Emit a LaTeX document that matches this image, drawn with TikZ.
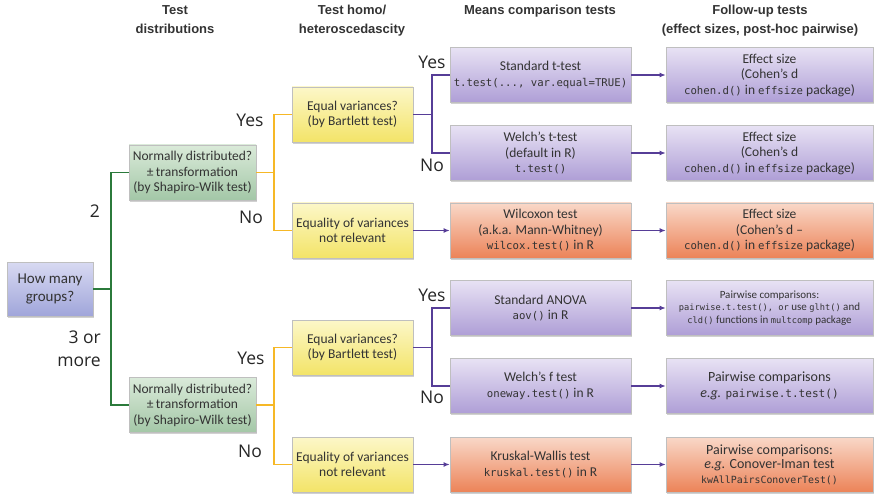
\documentclass[tikz,border=0pt]{standalone}
\usepackage{fontspec}
\setmainfont{Carlito}
\setmonofont{DejaVu Sans Mono}[Scale=0.79]
\newfontfamily\headfont{Liberation Sans}
\newfontfamily\ynfont{Open Sans}
\usetikzlibrary{arrows.meta,shadows}

\definecolor{txtgray}{HTML}{333333}
\definecolor{lngreen}{HTML}{2B7A3B}
\definecolor{lnorange}{HTML}{F6B826}
\definecolor{lnpurple}{HTML}{563D97}
\definecolor{bluetop}{HTML}{D8DAF2}
\definecolor{bluebot}{HTML}{A0A5DA}
\definecolor{greentop}{HTML}{DAEAD9}
\definecolor{greenbot}{HTML}{A3C7A7}
\definecolor{yeltop}{HTML}{FCF7C8}
\definecolor{yelbot}{HTML}{F3E468}
\definecolor{purtop}{HTML}{E8E2F4}
\definecolor{purbot}{HTML}{AE9ED6}
\definecolor{oratop}{HTML}{F9D8C8}
\definecolor{orabot}{HTML}{EC8358}

\tikzset{
	box/.style = {align=center, inner sep=0pt, text centered, draw=black!25, line width=0.6pt,
		font=\fontsize{13.5}{15.5}\selectfont, text=txtgray,
		drop shadow={shadow xshift=1pt, shadow yshift=-1.6pt, opacity=0.3, fill=black!60}},
	groupbox/.style = {box, top color=bluetop, bottom color=bluebot, minimum width=86pt, minimum height=54pt, font=\fontsize{15}{18}\selectfont},
	normbox/.style = {box, top color=greentop, bottom color=greenbot, minimum width=127pt, minimum height=55pt},
	varbox/.style = {box, top color=yeltop, bottom color=yelbot, minimum width=121pt, minimum height=55pt},
	parbox/.style = {box, top color=purtop, bottom color=purbot, minimum width=181pt, minimum height=55pt},
	npbox/.style = {box, top color=oratop, bottom color=orabot, minimum width=181pt, minimum height=55pt},
	fparbox/.style = {parbox, minimum width=207pt},
	fnpbox/.style = {npbox, minimum width=207pt},
	header/.style = {font=\headfont\bfseries\fontsize{13}{19}\selectfont, text=txtgray, align=center, anchor=north, inner sep=0pt},
	yn/.style = {font=\ynfont\fontsize{17.5}{23}\selectfont, text=black!85, inner sep=0pt},
	grline/.style = {lngreen, line width=1.8pt},
	orline/.style = {lnorange, line width=1.8pt},
	puline/.style = {lnpurple, line width=1.8pt},
	puarrow/.style = {puline, -{Latex[length=6pt,width=5pt]}}
}

\begin{document}
\begin{tikzpicture}[x=1pt, y=-1pt]
	\useasboundingbox (0,0) rectangle (874,494);

	% column headers
	\node [header] (h1) at (175,5) {Test\\distributions};
	\node [header] (h2) at (352,5) {Test homo/\\heteroscedascity};
	\node [header] (h3) at (540,5) {Means comparison tests};
	\node [header] (h4) at (760,5) {Follow-up tests\\(effect sizes, post-hoc pairwise)};

	% boxes
	\node [groupbox] (groups) at (50,289) {How many\\groups?};
	\node [normbox] (norm1) at (192.5,172.5) {Normally distributed?\\±\,transformation\\(by Shapiro-Wilk test)};
	\node [normbox] (norm2) at (192.5,405) {Normally distributed?\\±\,transformation\\(by Shapiro-Wilk test)};

	\node [varbox] (var1) at (352.5,114.5) {Equal variances?\\(by Bartlett test)};
	\node [varbox] (nvar1) at (352.5,230.5) {Equality of variances\\not relevant};
	\node [varbox] (var2) at (352.5,347.5) {Equal variances?\\(by Bartlett test)};
	\node [varbox] (nvar2) at (352.5,464.5) {Equality of variances\\not relevant};

	\node [parbox] (ttest) at (540.5,75) {Standard t-test\\\texttt{t.test(..., var.equal=TRUE)}};
	\node [parbox] (welcht) at (540.5,153) {Welch's t-test\\(default in R)\\\texttt{t.test()}};
	\node [npbox] (wilcox) at (540.5,230.5) {Wilcoxon test\\(a.k.a. Mann-Whitney)\\\texttt{wilcox.test()} in R};
	\node [parbox] (anova) at (540.5,308) {Standard ANOVA\\\texttt{aov()} in R};
	\node [parbox] (welchf) at (540.5,386) {Welch's f test\\\texttt{oneway.test()} in R};
	\node [npbox] (kruskal) at (540.5,464.5) {Kruskal-Wallis test\\\texttt{kruskal.test()} in R};

	\node [fparbox] (eff1) at (769.5,75) {Effect size\\(Cohen's d\\\texttt{cohen.d()} in \texttt{effsize} package)};
	\node [fparbox] (eff2) at (769.5,153) {Effect size\\(Cohen's d\\\texttt{cohen.d()} in \texttt{effsize} package)};
	\node [fnpbox] (eff3) at (769.5,230.5) {Effect size\\(Cohen's d --\\\texttt{cohen.d()} in \texttt{effsize} package)};
	\node [fparbox, font=\fontsize{11}{12.5}\selectfont] (pair1) at (769.5,308) {Pairwise comparisons:\\\texttt{pairwise.t.test(), or} use \texttt{glht()} and\\\texttt{cld()} functions in \texttt{multcomp} package};
	\node [fparbox, font=\fontsize{14}{15.5}\selectfont] (pair2) at (769.5,386) {Pairwise comparisons\\\emph{e.g.} \texttt{pairwise.t.test()}};
	\node [fnpbox, font=\fontsize{14}{14.5}\selectfont] (pair3) at (769.5,464.5) {Pairwise comparisons:\\\emph{e.g.} Conover-Iman test\\{\fontsize{12.5}{14.5}\selectfont\texttt{kwAllPairsConoverTest()}}};

	% connectors
	\draw [grline] (groups.east) -- ++(18,0) |- (norm1.west);
	\draw [grline] (groups.east) -- ++(18,0) |- (norm2.west);
	\draw [orline] (norm1.east) -- ++(18,0) |- (var1.west);
	\draw [orline] (norm1.east) -- ++(18,0) |- (nvar1.west);
	\draw [orline] (norm2.east) -- ++(18,0) |- (var2.west);
	\draw [orline] (norm2.east) -- ++(18,0) |- (nvar2.west);
	\draw [puline] (var1.east) -- ++(19,0) |- (ttest.west);
	\draw [puline] (var1.east) -- ++(19,0) |- (welcht.west);
	\draw [puline] (var2.east) -- ++(19,0) |- (anova.west);
	\draw [puline] (var2.east) -- ++(19,0) |- (welchf.west);
	\draw [puarrow] (nvar1) -- (wilcox);
	\draw [puarrow] (nvar2) -- (kruskal);
	\foreach \a/\b in {ttest/eff1, welcht/eff2, wilcox/eff3, anova/pair1, welchf/pair2, kruskal/pair3}
		\draw [puarrow] (\a) -- (\b);

	% branch labels
	\node [yn] (l2) at (95,211) {2};
	\node [yn, anchor=east, align=right] (l3) at (101,349) {3 or\\more};
	\node [yn] (y1) at (250,120) {Yes};
	\node [yn] (n1) at (251,217) {No};
	\node [yn] (y2) at (251,358) {Yes};
	\node [yn] (n2) at (250,451) {No};
	\node [yn] (y3) at (432,62) {Yes};
	\node [yn] (n3) at (432,165) {No};
	\node [yn] (y4) at (432,295) {Yes};
	\node [yn] (n4) at (432,397) {No};
\end{tikzpicture}
\end{document}
